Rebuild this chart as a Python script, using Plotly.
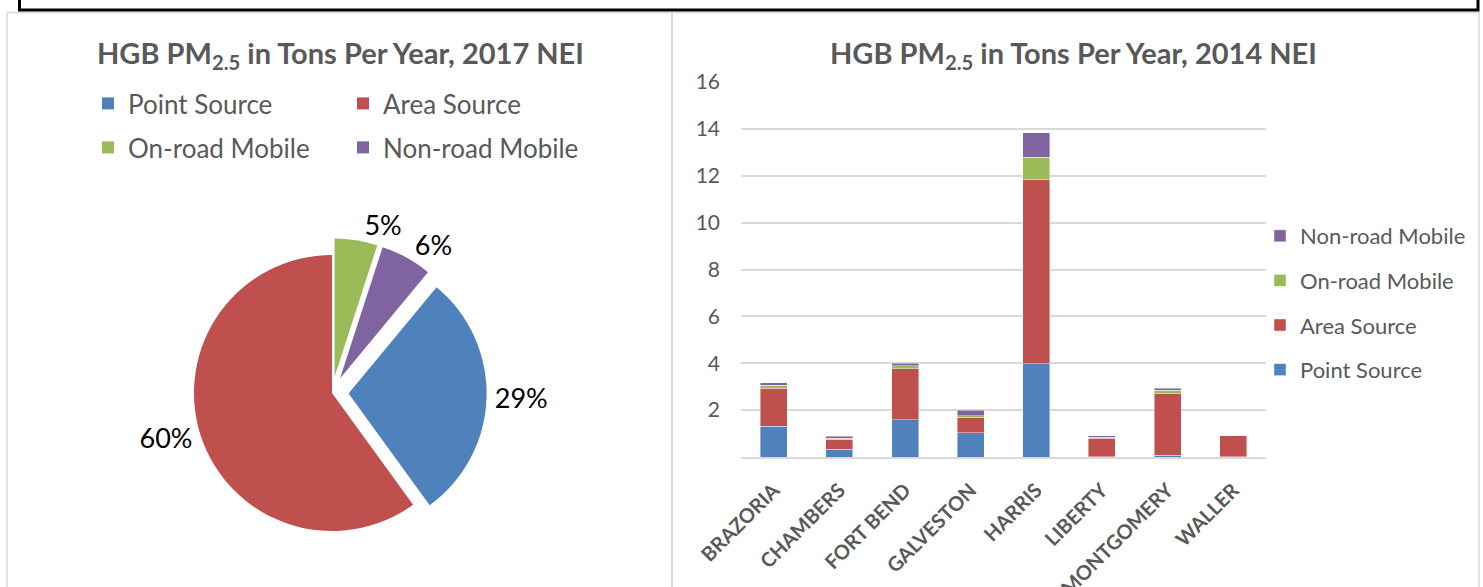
import plotly.graph_objects as go

W, H = 1483, 587

# ---------------- data ----------------
pie_labels = ["Point Source", "Area Source", "On-road Mobile", "Non-road Mobile"]
pie_values = [29, 60, 5, 6]
pie_colors = ["#4F81BD", "#C0504D", "#9BBB59", "#8064A2"]

counties = ["BRAZORIA", "CHAMBERS", "FORT BEND", "GALVESTON", "HARRIS",
            "LIBERTY", "MONTGOMERY", "WALLER"]
point_src = [1.31, 0.33, 1.59, 1.04, 3.98, 0.01, 0.07, 0.01]
area_src = [1.63, 0.42, 2.18, 0.65, 7.85, 0.80, 2.66, 0.90]
onroad = [0.12, 0.06, 0.13, 0.07, 0.97, 0.04, 0.11, 0.01]
nonroad = [0.11, 0.07, 0.11, 0.23, 1.04, 0.05, 0.09, 0.01]
bar_series = [("Point Source", point_src), ("Area Source", area_src),
              ("On-road Mobile", onroad), ("Non-road Mobile", nonroad)]

y_tickvals = [0, 2, 4, 6, 8, 10, 12, 14, 16]
y_ticktext = ["", "2", "4", "6", "8", "10", "12", "14", "16"]

pie_title = "HGB PM<sub>2.5</sub> in Tons Per Year, 2017 NEI"
bar_title = "HGB PM<sub>2.5</sub> in Tons Per Year, 2014 NEI"

FONT = "Lato"
GRAY = "#595959"


def px(x):
    return x / W


def py(y):
    return 1 - y / H


fig = go.Figure()

# ---------------- pie ----------------
cx, cy, half = 332, 393, 154.6
pie_common = dict(
    labels=pie_labels, values=pie_values, sort=False,
    direction="clockwise", rotation=39.6,
    pull=[0.12, 0, 0.12, 0.12],
    texttemplate="%{percent:.0%}",
    textfont=dict(family=FONT, size=27, color="black"),
    outsidetextfont=dict(family=FONT, size=27, color="black"),
    domain=dict(x=[px(cx - half), px(cx + half)], y=[py(cy + half), py(cy - half)]),
    showlegend=False,
)
# main pie (labels for all slices but the smallest one)
fig.add_trace(go.Pie(
    marker=dict(colors=pie_colors, line=dict(width=0)),
    textposition=["outside", "outside", "none", "outside"],
    hoverinfo="label+percent", **pie_common,
))
# same pie, transparent, carrying only the smallest slice's label
fig.add_trace(go.Pie(
    marker=dict(colors=["rgba(0,0,0,0)"] * 4, line=dict(width=0)),
    textposition=["none", "none", "outside", "none"],
    hoverinfo="skip", **pie_common,
))

# legend entries for the pie (two rows)
for i, (lab, col) in enumerate(zip(pie_labels, pie_colors)):
    fig.add_trace(go.Scatter(
        x=[None], y=[None], mode="markers", name=lab,
        marker=dict(symbol="square", size=12, color=col),
        xaxis="x2", yaxis="y2",
        legend="legend" if i < 2 else "legend3",
    ))

# ---------------- bars ----------------
for rank, ((name, vals), col) in enumerate(zip(bar_series, pie_colors)):
    fig.add_trace(go.Bar(
        x=counties, y=vals, name=name,
        marker=dict(color=col, line=dict(width=0.6, color="rgba(255,255,255,0.7)")),
        legend="legend2", legendgroup=name, legendrank=10 - rank,
    ))

fig.update_layout(
    template="none",
    width=W, height=H,
    margin=dict(l=0, r=0, t=0, b=0, pad=0, autoexpand=False),
    paper_bgcolor="white", plot_bgcolor="white",
    font=dict(family=FONT, color=GRAY),
    barmode="stack", bargap=0.59,
    hovermode="closest",
    xaxis=dict(domain=[px(741), px(1266)], tickangle=-45, automargin=False,
               tickfont=dict(family=FONT, size=20, color=GRAY, weight="bold"),
               showline=True, linecolor="#d9d9d9", linewidth=1.5, showgrid=False,
               ticks="", ticklabelstandoff=12, fixedrange=True),
    yaxis=dict(domain=[py(457), py(82)], range=[0, 16], automargin=False,
               tickvals=y_tickvals, ticktext=y_ticktext,
               tickfont=dict(family=FONT, size=21, color=GRAY),
               showgrid=True, gridcolor="#d9d9d9", gridwidth=1.5, showline=False,
               zeroline=False, ticks="", ticklabelstandoff=20, fixedrange=True),
    xaxis2=dict(visible=False, domain=[0, 0.01], anchor="y2"),
    yaxis2=dict(visible=False, domain=[0, 0.01], anchor="x2"),
    legend=dict(orientation="h", x=px(88), y=py(80), xanchor="left", yanchor="top",
                entrywidth=210, entrywidthmode="pixels", borderwidth=0,
                font=dict(family=FONT, size=26, color=GRAY), bgcolor="rgba(0,0,0,0)"),
    legend3=dict(orientation="h", x=px(88), y=py(124), xanchor="left", yanchor="top",
                 entrywidth=210, entrywidthmode="pixels", borderwidth=0,
                 font=dict(family=FONT, size=26, color=GRAY), bgcolor="rgba(0,0,0,0)"),
    legend2=dict(orientation="v", x=px(1260), y=py(215), xanchor="left", yanchor="top",
                 traceorder="grouped", tracegroupgap=13, borderwidth=0,
                 font=dict(family=FONT, size=22, color=GRAY), bgcolor="rgba(0,0,0,0)"),
    annotations=[
        dict(text=pie_title, x=px(340), y=py(55), xref="paper", yref="paper",
             showarrow=False, xanchor="center", yanchor="middle",
             font=dict(family=FONT, size=29, color=GRAY, weight="bold")),
        dict(text=bar_title, x=px(1073), y=py(55), xref="paper", yref="paper",
             showarrow=False, xanchor="center", yanchor="middle",
             font=dict(family=FONT, size=29, color=GRAY, weight="bold")),
    ],
    shapes=[
        dict(type="rect", xref="paper", yref="paper", x0=px(7), x1=px(1479),
             y0=py(600), y1=py(12.5), line=dict(color="#d9d9d9", width=1.5)),
        dict(type="line", xref="paper", yref="paper", x0=px(672), x1=px(672),
             y0=py(600), y1=py(12.5), line=dict(color="#d9d9d9", width=2)),
        dict(type="rect", xref="paper", yref="paper", x0=px(19.5), x1=px(1478),
             y0=py(10), y1=py(-10), line=dict(color="black", width=3)),
    ],
)

fig.write_html("out.html", config={"displayModeBar": False},
               post_script="document.body.style.margin='0px';")
